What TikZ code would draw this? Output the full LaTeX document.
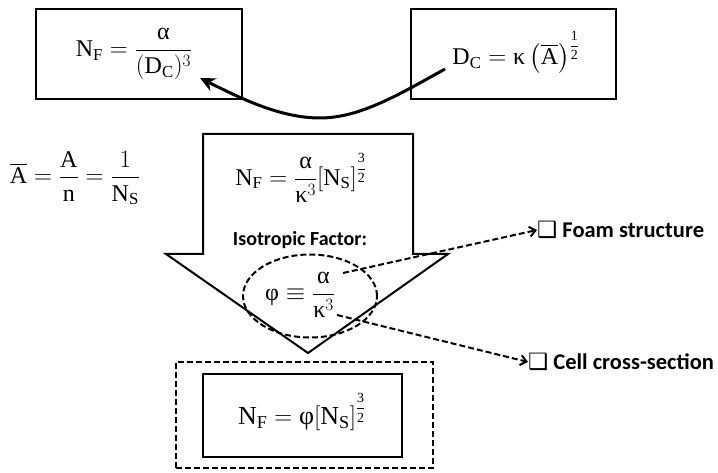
\documentclass[tikz,border=0pt]{standalone}
\usepackage{amsmath}
\usepackage{fontspec}
\setmainfont{Liberation Serif}
\newfontfamily\lblfont{Carlito}
\newfontfamily\symfont{DejaVu Sans}
\usetikzlibrary{arrows.meta,shapes.geometric}
\newcommand{\ra}{\mbox{α}}
\newcommand{\rk}{\mbox{κ}}
\newcommand{\rp}{\mbox{φ}}
\newcommand{\xfrac}[2]{\mbox{\fontsize{14}{14}\selectfont$\genfrac{}{}{0.7pt}{0}{\mbox{#1}}{\mbox{#2}}$}}
\tikzset{
  eqbox/.style={draw, line width=2pt, minimum width=#1},
  formula/.style={font=\fontsize{24}{28}\selectfont, inner sep=0pt},
  lbl/.style={font=\lblfont\bfseries\fontsize{22.5}{26}\selectfont, inner sep=0pt, anchor=west},
  dasharrow/.style={line width=2pt, dash pattern=on 6pt off 3pt, -{Straight Barb[length=6pt,width=10pt]}},
}
\begin{document}
\begin{tikzpicture}[x=1pt,y=-1pt]
\useasboundingbox (0,0) rectangle (718,473);
% top boxes
\node[eqbox=206pt, minimum height=90pt] (boxL) at (139,54) {};
\node[formula] (fL) at (134,54) {$\displaystyle\mathrm{N}_{\mathrm{F}}=\frac{\ra}{(\mathrm{D}_{\mathrm{C}})^3}$};
\node[eqbox=205pt, minimum height=90pt] (boxR) at (513.5,54) {};
\node[formula] (fR) at (516,52) {$\mathrm{D}_{\mathrm{C}}=\rk\left(\overline{\mathrm{A}}\right)^{\xfrac{1}{2}}$};
% curved arrow
\coordinate (cs) at (445,69);
\coordinate (ce) at (200,78);
\draw[line width=3pt, -{Stealth[length=15pt,width=14pt]}] (cs) .. controls (400,94) and (360,118) .. (320,118) .. controls (280,118) and (240,98) .. (ce);
% A-bar
\node[formula] (fA) at (75,178) {$\displaystyle\overline{\mathrm{A}}=\frac{\mathrm{A}}{\mathrm{n}}=\frac{1}{\mathrm{N}_{\mathrm{S}}}$};
% big down arrow
\draw[line width=2pt, line join=miter] (203,134) -- (413,134) -- (413,254) -- (448,254) -- (308,353) -- (166,254) -- (203,254) -- cycle;
\node[formula] (fM) at (301,178) {$\displaystyle\mathrm{N}_{\mathrm{F}}=\frac{\ra}{\rk^3}\!\left[\mathrm{N}_{\mathrm{S}}\right]^{\xfrac{3}{2}}$};
\node[font=\lblfont\bfseries\fontsize{20}{22}\selectfont, inner sep=0pt] (iso) at (300,240) {Isotropic Factor:};
\node[draw, ellipse, line width=2pt, dash pattern=on 6pt off 3pt, minimum width=134pt, minimum height=83pt] (ell) at (310,296) {};
\node[formula] (fP) at (300,295) {$\displaystyle\rp\equiv\frac{\ra}{\rk^3}$};
% labels
\node[lbl] (foam) at (537,230) {{\symfont\mdseries ❑} Foam structure};
\node[lbl] (cell) at (528,362) {{\symfont\mdseries ❑} Cell cross-section};
\coordinate (fs) at (343,273);
\coordinate (cs2) at (337,315);
\draw[dasharrow] (fs) -- (foam.west);
\draw[dasharrow] (cs2) -- (cell.west);
% bottom
\node[draw, line width=2pt, dash pattern=on 6pt off 3pt, minimum width=257pt, minimum height=106pt] (outer) at (304.5,415) {};
\node[eqbox=199pt, minimum height=83pt] (inner) at (302.5,415.5) {};
\node[formula, font=\fontsize{26}{30}\selectfont] (fB) at (302,412) {$\mathrm{N}_{\mathrm{F}}=\rp\!\left[\mathrm{N}_{\mathrm{S}}\right]^{\xfrac{3}{2}}$};
\end{tikzpicture}
\end{document}
